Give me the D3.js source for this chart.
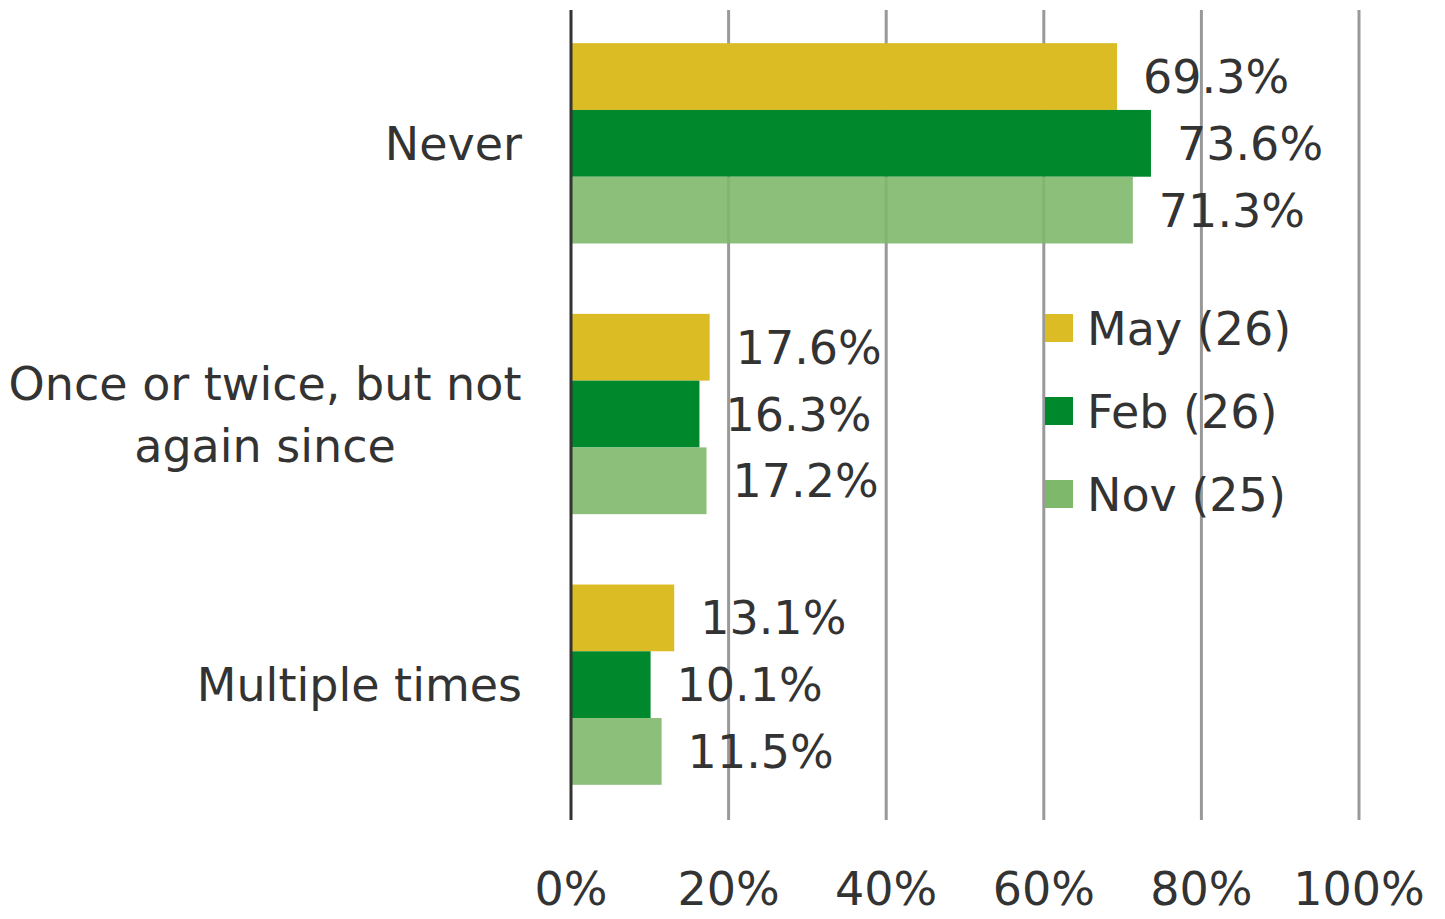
<!DOCTYPE html>
<html>
<head>
<meta charset="utf-8">
<script src="https://cdn.jsdelivr.net/npm/d3@7"></script>
<style>
  body { margin: 0; background: #fff; }
  text { font-family: "DejaVu Sans", sans-serif; fill: #333; }
</style>
</head>
<body>
<svg width="1445" height="919"></svg>
<script>
var categories = ["Never", "Once or twice, but not again since", "Multiple times"];
var series = ["May (26)", "Feb (26)", "Nov (25)"];
var mayValues = [69.3, 17.6, 13.1];
var febValues = [73.6, 16.3, 10.1];
var novValues = [71.3, 17.2, 11.5];
var tickValues = [0, 20, 40, 60, 80, 100];

var colors = ["#dbbc24", "#00882c", "#7eb86b"];
var values = [mayValues, febValues, novValues];

var svg = d3.select("svg");
var fontSize = 46;

var x = d3.scaleLinear().domain([0, 100]).range([571, 1359]);
var y0 = d3.scaleBand().domain(categories).range([8, 820]).paddingInner(0.26).paddingOuter(0.13);
var y1 = d3.scaleBand().domain(series).range([0, y0.bandwidth()]);

// gridlines
svg.append("g")
  .selectAll("line")
  .data(tickValues.slice(1))
  .enter().append("line")
  .attr("x1", function(d){ return x(d); })
  .attr("x2", function(d){ return x(d); })
  .attr("y1", 10).attr("y2", 820)
  .attr("stroke", "#999").attr("stroke-width", 3);

// bars
var groups = svg.append("g").selectAll("g")
  .data(categories)
  .enter().append("g")
  .attr("transform", function(d){ return "translate(0," + y0(d) + ")"; });

groups.selectAll("rect")
  .data(function(c, i){ return series.map(function(s, j){ return {s: s, j: j, v: values[j][i]}; }); })
  .enter().append("rect")
  .attr("x", x(0))
  .attr("y", function(d){ return y1(d.s); })
  .attr("width", function(d){ return x(d.v) - x(0); })
  .attr("height", y1.bandwidth())
  .attr("fill", function(d){ return colors[d.j]; })
  .attr("fill-opacity", function(d){ return d.j == 2 ? 0.9 : 1; });

// value labels
groups.selectAll("text")
  .data(function(c, i){ return series.map(function(s, j){ return {s: s, j: j, v: values[j][i]}; }); })
  .enter().append("text")
  .attr("x", function(d){ return x(d.v) + 26; })
  .attr("y", function(d){ return y1(d.s) + y1.bandwidth() / 2; })
  .attr("dy", "0.36em")
  .attr("font-size", fontSize)
  .text(function(d){ return d.v.toFixed(1) + "%"; });

// axis line
svg.append("line")
  .attr("x1", x(0)).attr("x2", x(0))
  .attr("y1", 10).attr("y2", 820)
  .attr("stroke", "#333").attr("stroke-width", 3);

// x tick labels
svg.append("g")
  .selectAll("text")
  .data(tickValues)
  .enter().append("text")
  .attr("x", function(d){ return x(d); })
  .attr("y", 905)
  .attr("text-anchor", "middle")
  .attr("font-size", fontSize)
  .text(function(d){ return d + "%"; });

// category labels
var catLines = {
  "Never": ["Never"],
  "Once or twice, but not again since": ["Once or twice, but not", "again since"],
  "Multiple times": ["Multiple times"]
};
categories.forEach(function(c){
  var lines = catLines[c];
  var cy = y0(c) + y0.bandwidth() / 2;
  var t = svg.append("text")
    .attr("font-size", fontSize)
    .attr("text-anchor", lines.length > 1 ? "middle" : "end");
  lines.forEach(function(l, i){
    t.append("tspan")
      .attr("x", lines.length > 1 ? 265 : 522)
      .attr("y", cy + (i - (lines.length - 1) / 2) * 62)
      .attr("dy", "0.36em")
      .text(l);
  });
});

// legend
var legend = svg.append("g").selectAll("g")
  .data(series)
  .enter().append("g")
  .attr("transform", function(d, i){ return "translate(1045," + (328 + i * 83) + ")"; });
legend.append("rect")
  .attr("x", 0).attr("y", -14)
  .attr("width", 28).attr("height", 28)
  .attr("fill", function(d, i){ return colors[i]; });
legend.append("text")
  .attr("x", 42).attr("y", 0)
  .attr("dy", "0.36em")
  .attr("font-size", fontSize)
  .text(function(d){ return d; });
</script>
</body>
</html>
